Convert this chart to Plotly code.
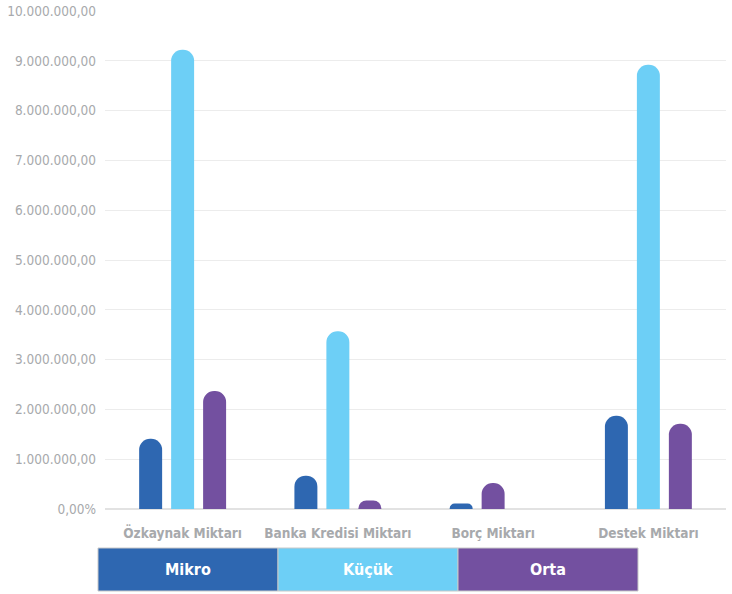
import plotly.graph_objects as go

categories = ["Özkaynak Miktarı", "Banka Kredisi Miktarı", "Borç Miktarı", "Destek Miktarı"]
series_names = ["Mikro", "Küçük", "Orta"]
mikro = [1410000, 670000, 110000, 1870000]
kucuk = [9220000, 3570000, None, 8920000]
orta = [2370000, 170000, 520000, 1710000]
colors = ["#2E67B1", "#6DCFF6", "#7350A0"]

tick_vals = [0, 1e6, 2e6, 3e6, 4e6, 5e6, 6e6, 7e6, 8e6, 9e6, 10e6]
tick_text = ["0,00%", "1.000.000,00", "2.000.000,00", "3.000.000,00", "4.000.000,00",
             "5.000.000,00", "6.000.000,00", "7.000.000,00", "8.000.000,00",
             "9.000.000,00", "10.000.000,00"]

W, H = 732, 594
L, R, T, B = 105, 6, 11, 85
pw, ph = W - L - R, H - T - B
FONT = "DejaVu Sans Condensed, Liberation Sans Narrow, sans-serif"

bar_w = 0.148
offsets = {
    "Mikro": [-0.280] * 4,
    "Küçük": [-0.074] * 4,
    # the Borç "Orta" bar sits in the middle slot in the original
    "Orta": [0.132, 0.132, -0.074, 0.132],
}

fig = go.Figure()
for name, vals, col in zip(series_names, [mikro, kucuk, orta], colors):
    fig.add_trace(go.Bar(
        x=categories, y=vals, name=name,
        marker=dict(color=col, line=dict(width=0), cornerradius="50%"),
        width=bar_w, offset=offsets[name],
        showlegend=False,
    ))

fig.update_layout(
    width=W, height=H,
    margin=dict(l=L, r=R, t=T, b=B),
    paper_bgcolor="white", plot_bgcolor="white",
    barmode="group",
    font=dict(family=FONT),
)
fig.update_xaxes(
    range=[-0.5, 3.5], showgrid=False, showline=False, ticks="",
    tickvals=categories, ticktext=["<b>%s</b>" % c for c in categories],
    tickfont=dict(size=13.5, color="#a7a9ac", family=FONT),
    ticklabelstandoff=14, automargin=False,
)
fig.update_yaxes(
    range=[0, 10000000], tickvals=tick_vals, ticktext=tick_text,
    showgrid=True, gridcolor="#ececec", gridwidth=1,
    zeroline=True, zerolinecolor="#e2e2e2", zerolinewidth=1.5,
    tickfont=dict(size=13.5, color="#a7a9ac", family=FONT),
    ticks="", ticklabelstandoff=8, automargin=False,
)

# boxed legend under the chart
def px_x(x):
    return (x - L) / pw

def px_y(y):
    return (H - B - y) / ph

box_left, box_w, box_top, box_bot = 98, 180, 548, 591
for i, (name, col) in enumerate(zip(series_names, colors)):
    x0 = box_left + i * box_w
    fig.add_shape(type="rect", xref="paper", yref="paper",
                  x0=px_x(x0), x1=px_x(x0 + box_w), y0=px_y(box_bot), y1=px_y(box_top),
                  fillcolor=col, line=dict(color="#c8c8c8", width=1))
    fig.add_annotation(xref="paper", yref="paper",
                       x=px_x(x0 + box_w / 2), y=px_y((box_top + box_bot) / 2),
                       xanchor="center", yanchor="middle",
                       text="<b>%s</b>" % name, showarrow=False,
                       font=dict(size=16, color="white", family=FONT))

# drop the default page margin so the figure sits at the window corner
fig.write_html("out.html", config={"displayModeBar": False},
               post_script="document.body.style.margin='0';")
